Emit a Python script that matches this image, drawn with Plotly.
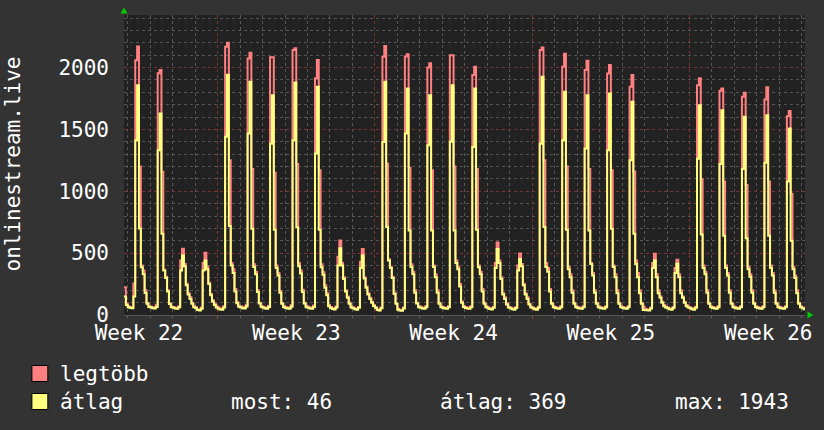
import numpy as np
import plotly.graph_objects as go

# ---------------- data (2-hour samples, x in days; day 0 = start of Week 23) ----------------
series_start_day = -5 + 20 / 24
step_days = 2 / 24

max_values = [
    225, 95,
    70, 64, 62, 255, 2060, 2170, 1200, 400, 360, 200, 100, 72,
    66, 62, 60, 80, 1955, 1980, 1157, 366, 310, 200, 95, 68,
    64, 58, 55, 70, 441, 536, 413, 253, 175, 144, 100, 70,
    62, 45, 40, 60, 420, 504, 390, 260, 170, 120, 90, 70,
    60, 52, 48, 70, 2169, 2200, 1250, 420, 370, 210, 105, 75,
    68, 62, 60, 80, 2074, 2120, 1180, 410, 350, 200, 100, 72,
    66, 60, 58, 75, 2083, 2083, 1150, 400, 340, 195, 98, 70,
    65, 60, 57, 78, 2142, 2156, 1220, 420, 360, 205, 100, 72,
    66, 60, 58, 76, 1913, 2061, 1170, 410, 345, 240, 175, 80,
    64, 55, 50, 68, 470, 603, 420, 306, 200, 150, 100, 68,
    60, 52, 48, 65, 430, 534, 306, 230, 175, 140, 107, 80,
    63, 45, 38, 60, 2088, 2175, 1224, 450, 390, 310, 180, 95,
    50, 40, 38, 60, 2090, 2107, 1190, 410, 350, 200, 100, 72,
    66, 58, 55, 72, 2000, 2034, 1170, 400, 330, 200, 100, 70,
    64, 58, 55, 70, 2099, 2099, 1200, 441, 387, 250, 110, 72,
    64, 58, 55, 70, 1940, 2007, 1180, 400, 350, 210, 100, 70,
    62, 55, 50, 66, 420, 587, 441, 306, 175, 144, 95, 66,
    60, 52, 48, 64, 400, 498, 413, 253, 175, 144, 91, 66,
    60, 52, 48, 66, 2142, 2162, 1250, 420, 380, 210, 100, 70,
    64, 58, 55, 70, 2007, 2112, 1200, 390, 330, 200, 100, 70,
    64, 58, 55, 70, 1980, 2056, 1180, 420, 340, 200, 100, 70,
    64, 58, 55, 70, 1953, 2020, 1170, 400, 330, 200, 100, 70,
    64, 58, 55, 70, 1845, 1940, 1160, 441, 340, 200, 100, 66,
    50, 45, 42, 60, 420, 496, 330, 200, 150, 107, 80, 66,
    60, 52, 48, 64, 380, 447, 330, 200, 150, 107, 80, 66,
    60, 52, 48, 66, 1858, 1913, 1100, 400, 350, 200, 100, 70,
    64, 58, 55, 70, 1812, 1831, 1080, 400, 340, 200, 100, 70,
    64, 58, 55, 70, 1764, 1796, 1050, 390, 330, 200, 100, 70,
    64, 58, 55, 70, 1742, 1840, 1080, 400, 340, 200, 100, 70,
    64, 58, 55, 70, 1607, 1650, 980, 390, 320, 200, 100, 70,
    60, 52, 50,
]

avg_values = [
    150, 80,
    62, 56, 54, 150, 1413, 1858, 700, 385, 330, 178, 90, 64,
    60, 55, 52, 65, 1332, 1629, 656, 360, 300, 190, 88, 62,
    58, 52, 50, 62, 360, 480, 395, 240, 165, 130, 90, 62,
    55, 40, 36, 50, 360, 441, 370, 250, 160, 110, 80, 60,
    50, 45, 42, 60, 1440, 1943, 720, 400, 340, 190, 95, 66,
    60, 55, 53, 68, 1467, 1885, 698, 387, 330, 185, 92, 64,
    58, 53, 50, 65, 1385, 1777, 690, 380, 320, 180, 90, 62,
    57, 52, 50, 66, 1413, 1880, 710, 395, 335, 185, 92, 63,
    58, 53, 50, 64, 1305, 1845, 690, 385, 325, 220, 160, 70,
    56, 48, 45, 60, 400, 540, 400, 290, 190, 140, 90, 60,
    54, 46, 42, 58, 380, 481, 295, 220, 165, 130, 100, 72,
    58, 40, 36, 55, 1399, 1885, 711, 441, 380, 300, 170, 90,
    42, 36, 34, 52, 1467, 1831, 684, 387, 330, 180, 92, 63,
    58, 52, 50, 62, 1372, 1777, 684, 387, 306, 180, 91, 63,
    56, 52, 50, 62, 1400, 1858, 684, 420, 370, 230, 100, 64,
    56, 52, 50, 62, 1359, 1831, 690, 385, 330, 190, 90, 62,
    55, 48, 45, 58, 380, 533, 420, 290, 165, 130, 85, 60,
    54, 46, 42, 56, 360, 452, 395, 240, 165, 130, 85, 60,
    54, 46, 42, 58, 1385, 1925, 711, 387, 350, 190, 91, 63,
    56, 52, 50, 62, 1413, 1804, 690, 370, 306, 180, 91, 63,
    56, 52, 50, 62, 1345, 1777, 684, 413, 320, 180, 91, 63,
    56, 52, 50, 62, 1332, 1791, 698, 387, 306, 175, 91, 63,
    56, 52, 50, 62, 1251, 1723, 656, 413, 306, 175, 91, 40,
    40, 38, 36, 52, 380, 441, 306, 175, 140, 100, 70, 60,
    54, 46, 42, 56, 340, 414, 306, 175, 140, 100, 70, 60,
    54, 46, 42, 58, 1264, 1696, 650, 380, 330, 180, 91, 63,
    56, 52, 50, 62, 1220, 1656, 640, 380, 320, 180, 91, 63,
    56, 52, 50, 62, 1180, 1602, 620, 370, 310, 180, 91, 63,
    56, 52, 50, 62, 1230, 1615, 640, 380, 320, 180, 91, 63,
    56, 52, 50, 62, 1080, 1508, 600, 370, 300, 175, 91, 63,
    55, 46, 46,
]

week_label_pos = [-3.5, 3.5, 10.5, 17.5, 24.5]
week_labels = ["Week 22", "Week 23", "Week 24", "Week 25", "Week 26"]
week_start_pos = [0, 7, 14, 21]
y_tick_vals = [0, 500, 1000, 1500, 2000]

series_names = ["legtöbb", "átlag"]
series_colors = ["#ff8080", "#ffff80"]
stat_texts = ["most: 46", "átlag: 369", "max: 1943"]
y_title = "onlinestream.live"

# ---------------- layout constants ----------------
W, H = 824, 430
ML, MR, MT, MB = 124, 16, 15, 115
PW, PH = W - ML - MR, H - MT - MB
x_range = [series_start_day, series_start_day + 30.306]
y_range = [0, 2425]
FONT = "DejaVu Sans Mono"
TXT = "#ffffff"


def px(xp):
    return (xp - ML) / PW


def py(yp):
    return (H - MB - yp) / PH


x = series_start_day + np.arange(len(avg_values)) * step_days

fig = go.Figure()
fig.add_trace(go.Scatter(x=x, y=max_values, mode="lines", line=dict(color=series_colors[0], width=2, shape="hv"),
                         name=series_names[0], showlegend=False))
fig.add_trace(go.Scatter(x=x, y=avg_values, mode="lines", line=dict(color=series_colors[1], width=2, shape="hv"),
                         name=series_names[1], showlegend=False))
fig.add_trace(go.Scatter(x=[None], y=[None], xaxis="x2", showlegend=False))

fig.update_layout(
    width=W, height=H,
    margin=dict(l=ML, r=MR, t=MT, b=MB, pad=0),
    paper_bgcolor="#333333", plot_bgcolor="#222222",
    font=dict(family=FONT, size=21, color=TXT),
    xaxis=dict(range=x_range, tickmode="array", tickvals=week_start_pos, showticklabels=False,
               showgrid=True, gridcolor="#7a3434", griddash="dot", gridwidth=1,
               ticks="outside", ticklen=3, tickcolor="#a04040",
               minor=dict(tickmode="linear", tick0=0, dtick=1, showgrid=True, gridcolor="#555555",
                          griddash="dot", ticks="outside", ticklen=2, tickcolor="#666666"),
               zeroline=False, showline=True, linecolor="#555555", linewidth=1, fixedrange=True),
    xaxis2=dict(range=x_range, overlaying="x", anchor="y", side="bottom", tickmode="array",
                tickvals=week_label_pos, ticktext=week_labels, showgrid=False, zeroline=False,
                ticks="", tickfont=dict(family=FONT, size=21, color=TXT), ticklabelstandoff=3),
    yaxis=dict(range=y_range, tickmode="array", tickvals=y_tick_vals,
               showgrid=True, gridcolor="#7a3434", griddash="dot", gridwidth=1,
               minor=dict(tickmode="linear", tick0=0, dtick=100, showgrid=True, gridcolor="#555555",
                          griddash="dot"),
               ticks="", zeroline=False, showline=False,
               tickfont=dict(family=FONT, size=21, color=TXT), ticklabelstandoff=14),
    showlegend=False,
)

# y-axis title
fig.add_annotation(text=y_title, textangle=-90, xref="paper", yref="paper", x=px(13), y=py(164),
                   xanchor="center", yanchor="middle", showarrow=False,
                   font=dict(family=FONT, size=21, color=TXT))

# axis arrows
tri_up = f"M {px(120.5)} {py(13.5)} L {px(127.5)} {py(13.5)} L {px(124)} {py(7.5)} Z"
tri_right = f"M {px(810.5)} {py(311.5)} L {px(810.5)} {py(318.5)} L {px(816.5)} {py(315)} Z"
for p in (tri_up, tri_right):
    fig.add_shape(type="path", path=p, xref="paper", yref="paper", fillcolor="#00cc00",
                  line=dict(color="#00cc00", width=0))

# legend
legend_rows = [373.5, 401.5]
for row_y, col in zip(legend_rows, series_colors):
    fig.add_shape(type="rect", xref="paper", yref="paper", x0=px(31.5), x1=px(47.5),
                  y0=py(row_y - 8), y1=py(row_y + 8), fillcolor=col, line=dict(color="#000000", width=1))
for row_y, name in zip(legend_rows, series_names):
    fig.add_annotation(text=name, xref="paper", yref="paper", x=px(58), y=py(row_y),
                       xanchor="left", yanchor="middle", showarrow=False,
                       font=dict(family=FONT, size=21, color=TXT))
for xp, t in zip([229.5, 439, 675], stat_texts):
    fig.add_annotation(text=t, xref="paper", yref="paper", x=px(xp), y=py(legend_rows[1]),
                       xanchor="left", yanchor="middle", showarrow=False,
                       font=dict(family=FONT, size=21, color=TXT))

fig.write_html("out.html")
